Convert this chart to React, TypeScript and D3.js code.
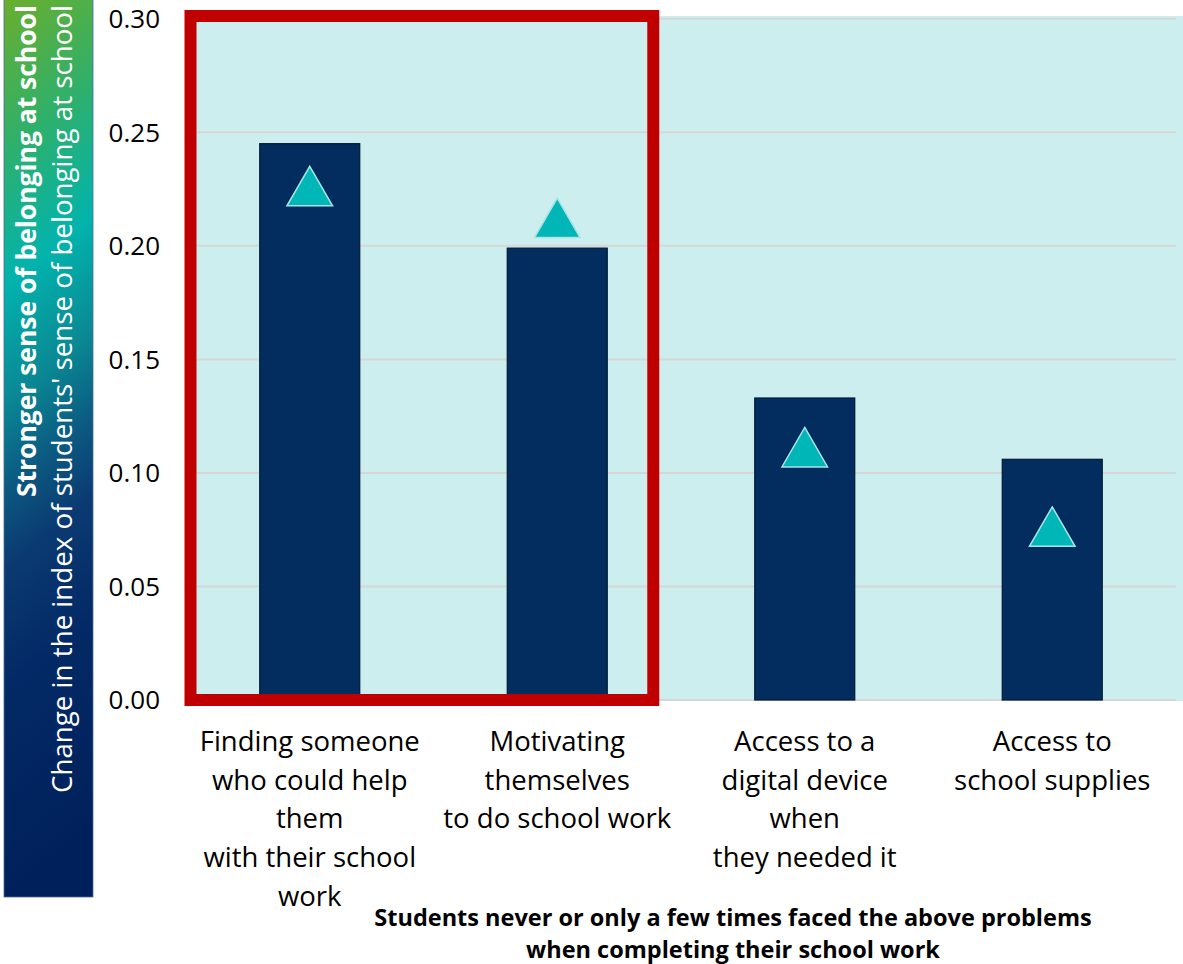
import React from "react";
import * as d3 from "d3";

// Problems that students rarely faced while completing their school work
const categories = [
  "Finding someone who could help them with their school work",
  "Motivating themselves to do school work",
  "Access to a digital device when they needed it",
  "Access to school supplies",
];
const categoryLines = [
  ["Finding someone", "who could help", "them", "with their school", "work"],
  ["Motivating", "themselves", "to do school work"],
  ["Access to a", "digital device", "when", "they needed it"],
  ["Access to", "school supplies"],
];
// Bar: change in the index of sense of belonging
const barValues = [0.245, 0.199, 0.133, 0.106];
// Triangle marker: second estimate
const markerValues = [0.225, 0.211, 0.11, 0.075];
const yTicks = [0, 0.05, 0.1, 0.15, 0.2, 0.25, 0.3];
// Categories highlighted by the red frame
const highlighted = [categories[0], categories[1]];

const W = 1183;
const H = 964;
const FONT = "'Open Sans', Lato, sans-serif";

export default function App() {
  const x = d3
    .scaleBand<string>()
    .domain(categories)
    .range([186, 1176])
    .paddingInner(0.596)
    .paddingOuter(0.298);
  const y = d3.scaleLinear().domain([0, 0.3]).range([700, 18.8]);

  const triPath = d3.symbol().type(d3.symbolTriangle).size(900)() as string;

  const hlX0 = x(highlighted[0])! - x.step() * x.paddingOuter() + 4.5;
  const hlX1 = x(highlighted[1])! + x.bandwidth() + x.step() * 0.186;

  return (
    <svg
      width={W}
      height={H}
      style={{ position: "absolute", left: 0, top: 0, background: "#fff" }}
      fontFamily={FONT}
    >
      <defs>
        <linearGradient id="bannerGrad" x1="0" y1="0" x2="0.08" y2="1">
          <stop offset="0" stopColor="#6bae2b" />
          <stop offset="0.17" stopColor="#2eb06c" />
          <stop offset="0.32" stopColor="#02b3ad" />
          <stop offset="0.45" stopColor="#0a8793" />
          <stop offset="0.54" stopColor="#0b5b82" />
          <stop offset="0.63" stopColor="#0b3a72" />
          <stop offset="0.76" stopColor="#032a66" />
          <stop offset="1" stopColor="#00205b" />
        </linearGradient>
      </defs>

      {/* Y-axis banner */}
      <rect x={4} y={-1} width={89} height={898} fill="url(#bannerGrad)" stroke="#4a6aa0" strokeWidth={0.8} />
      <text
        transform="translate(36,5) rotate(-90)"
        textAnchor="end"
        fill="#fff"
        fontWeight="bold"
        fontSize={26}
        textLength={492}
        lengthAdjust="spacingAndGlyphs"
      >
        Stronger sense of belonging at school
      </text>
      <text
        transform="translate(72,5) rotate(-90)"
        textAnchor="end"
        fill="#fff"
        fontSize={27}
        textLength={788}
        lengthAdjust="spacingAndGlyphs"
      >
        Change in the index of students' sense of belonging at school
      </text>

      {/* Plot area */}
      <rect x={186} y={16} width={W - 186} height={685} fill="#cdeeee" />
      {yTicks.map((t) => (
        <line
          key={t}
          x1={186}
          x2={1176}
          y1={y(t)}
          y2={y(t)}
          stroke="#d6d6d6"
          strokeWidth={2}
        />
      ))}
      {yTicks.map((t) => (
        <text
          key={"l" + t}
          x={160}
          y={y(t)}
          dy="0.36em"
          textAnchor="end"
          fontSize={26}
          fill="#000"
        >
          {d3.format(".2f")(t)}
        </text>
      ))}

      {/* Bars */}
      {categories.map((c, i) => (
        <rect
          key={c}
          x={x(c)}
          y={y(barValues[i])}
          width={x.bandwidth()}
          height={y(0) - y(barValues[i])}
          fill="#032d5e"
          stroke="#011a36"
          strokeWidth={1.2}
        />
      ))}

      {/* Triangle markers */}
      {categories.map((c, i) => (
        <path
          key={"m" + c}
          d={triPath}
          transform={`translate(${x(c)! + x.bandwidth() / 2},${y(markerValues[i]) + 3.5})`}
          fill="#00b6b6"
          stroke="#a8e4e6"
          strokeWidth={1.5}
        />
      ))}

      {/* Highlight frame */}
      <rect
        x={hlX0}
        y={16}
        width={hlX1 - hlX0}
        height={y(0) - 16}
        fill="none"
        stroke="#c00000"
        strokeWidth={12}
      />

      {/* Category labels */}
      {categories.map((c, i) => (
        <text key={"c" + c} textAnchor="middle" fontSize={27.5} fill="#000">
          {categoryLines[i].map((line, j) => (
            <tspan key={j} x={x(c)! + x.bandwidth() / 2} y={751 + j * 38.7}>
              {line}
            </tspan>
          ))}
        </text>
      ))}

      {/* X-axis title */}
      <text textAnchor="middle" fontWeight="bold" fontSize={23.5} fill="#000">
        <tspan x={733} y={926}>
          Students never or only a few times faced the above problems
        </tspan>
        <tspan x={733} y={958}>
          when completing their school work
        </tspan>
      </text>
    </svg>
  );
}
